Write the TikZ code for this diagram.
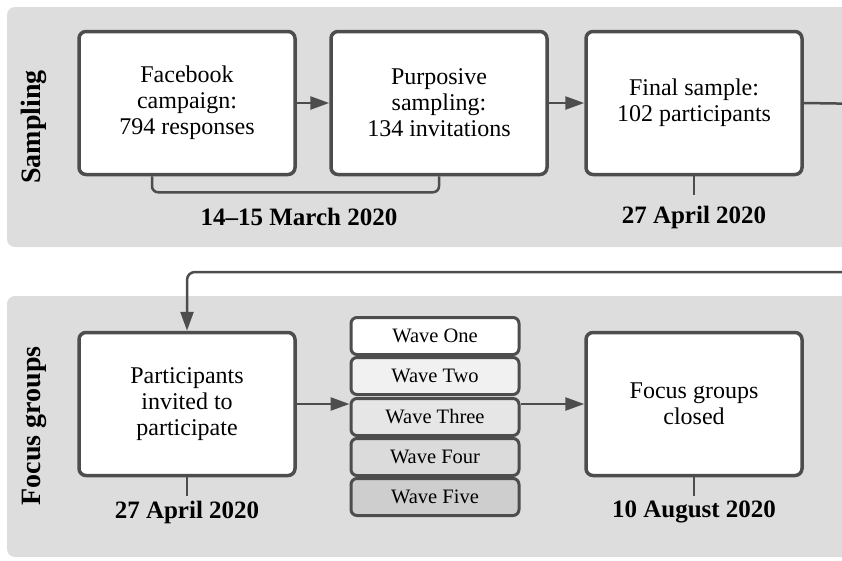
\documentclass[tikz,border=0pt]{standalone}
\usepackage{fontspec}
\setmainfont{Liberation Serif}
\usepackage{xcolor}
\usetikzlibrary{arrows.meta}

\definecolor{panelgray}{HTML}{DDDDDD}
\definecolor{linegray}{HTML}{4D4D4D}
\definecolor{waveA}{HTML}{FFFFFF}
\definecolor{waveB}{HTML}{F1F1F1}
\definecolor{waveC}{HTML}{E6E6E6}
\definecolor{waveD}{HTML}{DBDBDB}
\definecolor{waveE}{HTML}{CECECE}

\tikzset{
	panel/.style={fill=panelgray, rounded corners=8pt},
	stagebox/.style={draw=linegray, line width=3.5pt, fill=white, rounded corners=7pt,
		minimum width=216pt, minimum height=143pt, align=center,
		font=\fontsize{24}{26}\selectfont},
	wave/.style={draw=linegray, line width=3pt, rounded corners=6pt,
		minimum width=168pt, minimum height=37pt, inner sep=0pt,
		font=\fontsize{20.5}{22}\selectfont},
	datelabel/.style={font=\bfseries\fontsize{25}{26}\selectfont},
	sidelabel/.style={rotate=90, font=\bfseries\fontsize{28}{30}\selectfont},
	conn/.style={draw=linegray, line width=2.5pt},
	arr/.style={conn, -{Triangle[length=19pt,width=13pt]}}
}

\begin{document}
\begin{tikzpicture}[x=1pt,y=-1pt]
	\useasboundingbox (0,0) rectangle (842,560);
	\clip (0,0) rectangle (842,560);

	% the two bands
	\fill[panel] (7,7) rectangle (880,247);
	\fill[panel] (7,296) rectangle (880,557);
	\node[sidelabel] at (34,127) (samp) {Sampling};
	\node[sidelabel] at (34,426) (focus) {Focus groups};

	% sampling stage
	\node[stagebox] at (187,103) (fb) {Facebook\\campaign:\\794 responses};
	\node[stagebox] at (439,103) (ps) {Purposive\\sampling:\\134 invitations};
	\node[stagebox] at (694,103) (fin) {Final sample:\\102 participants};
	\draw[arr] (fb) to (ps);
	\draw[arr] (ps) to (fin);

	\draw[conn, rounded corners=6pt] ([xshift=-35pt]fb.south) -- ++(0,16) -| (ps.south);
	\node[datelabel] at (299,217) (d1) {14–15 March 2020};
	\draw[conn] (fin.south) -- ++(0,19);
	\node[datelabel] at (694,217) (d2) {27 April 2020};

	% focus group stage
	\node[stagebox] at (187,404) (part) {Participants\\invited to\\participate};
	\node[stagebox] at (694,404) (closed) {Focus groups\\closed};

	\node[wave, fill=waveA] at (435,336) (w1) {Wave One};
	\node[wave, fill=waveB] at (435,376) (w2) {Wave Two};
	\node[wave, fill=waveC] at (435,417) (w3) {Wave Three};
	\node[wave, fill=waveD] at (435,457) (w4) {Wave Four};
	\node[wave, fill=waveE] at (435,497) (w5) {Wave Five};

	\draw[arr] (part) to (part -| w3.west);
	\draw[arr] (closed -| w3.east) to (closed);

	\draw[conn] (part.south) -- ++(0,19);
	\node[datelabel] at (187,512) (d3) {27 April 2020};
	\draw[conn] (closed.south) -- ++(0,19);
	\node[datelabel] at (694,512) (d4) {10 August 2020};

	% link from the sample into the first focus group step
	\coordinate (rturn) at (870,104);
	\coordinate (lturn) at (187,272);
	\draw[arr, rounded corners=8pt] (fin.east) -- (rturn) |- (lturn) -- (part.north);
\end{tikzpicture}
\end{document}
